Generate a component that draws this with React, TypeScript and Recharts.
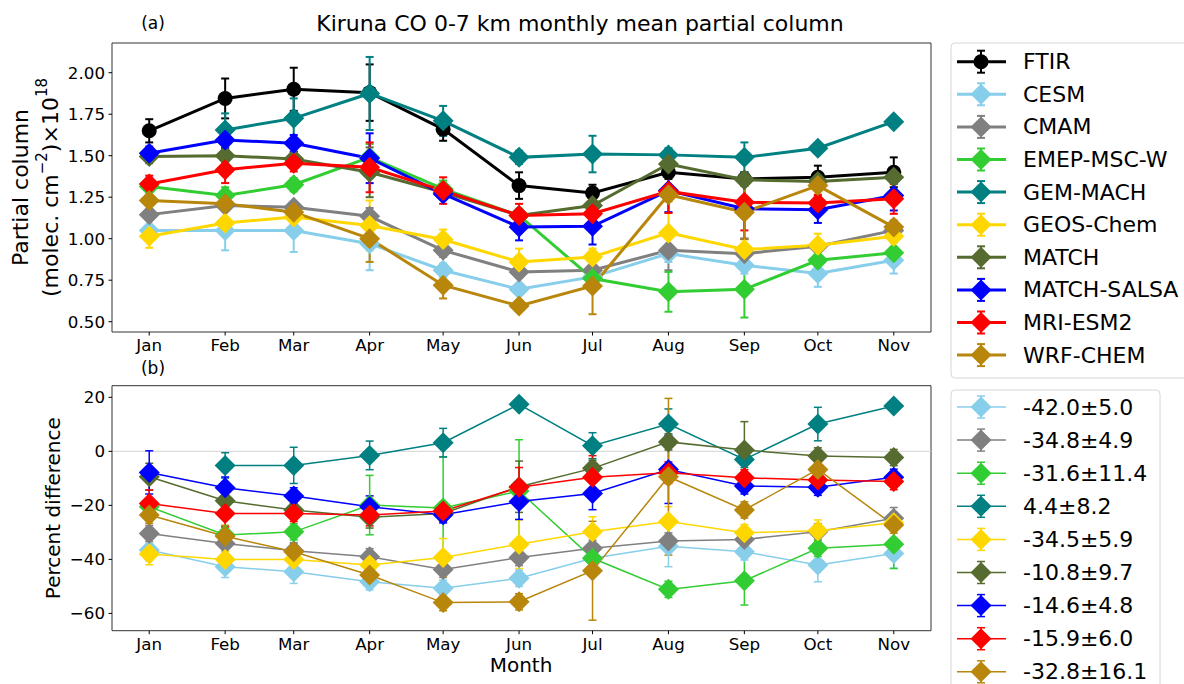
import React from 'react';
import { LineChart, Line, XAxis, YAxis, ErrorBar, ReferenceLine } from 'recharts';

// ---------- categories ----------
const months = ['Jan', 'Feb', 'Mar', 'Apr', 'May', 'Jun', 'Jul', 'Aug', 'Sep', 'Oct', 'Nov'];
const monthDays = [15, 46, 74, 105, 135, 166, 196, 227, 258, 288, 319];

// ---------- series names / colours ----------
const seriesNames = ['FTIR', 'CESM', 'CMAM', 'EMEP-MSC-W', 'GEM-MACH', 'GEOS-Chem', 'MATCH', 'MATCH-SALSA', 'MRI-ESM2', 'WRF-CHEM'];
const seriesColors = ['#000000', '#87CEEB', '#808080', '#32CD32', '#008080', '#FFD700', '#556B2F', '#0000FF', '#FF0000', '#B8860B'];

// ---------- panel (a): partial column (x1e18) ----------
const ftirCol = [1.65, 1.845, 1.9, 1.88, 1.66, 1.32, 1.275, 1.4, 1.36, 1.37, 1.4];
const ftirColErr = [0.07, 0.12, 0.13, 0.17, 0.07, 0.08, 0.05, 0.04, 0.04, 0.07, 0.09];
const cesmCol = [1.05, 1.05, 1.05, 0.97, 0.81, 0.695, 0.77, 0.91, 0.84, 0.79, 0.87];
const cesmColErr = [0.03, 0.12, 0.13, 0.16, 0.04, 0.03, 0.04, 0.05, 0.05, 0.08, 0.08];
const cmamCol = [1.145, 1.2, 1.19, 1.135, 0.93, 0.8, 0.81, 0.93, 0.91, 0.955, 1.05];
const cmamColErr = [0.03, 0.03, 0.03, 0.05, 0.04, 0.03, 0.03, 0.12, 0.04, 0.03, 0.04];
const emepCol = [1.315, 1.26, 1.325, 1.49, 1.3, 1.14, 0.76, 0.68, 0.695, 0.87, 0.915];
const emepColErr = [0.03, 0.05, 0.04, 0.08, 0.05, 0.04, 0.03, 0.12, 0.17, 0.03, 0.03];
const gemCol = [null, 1.655, 1.725, 1.875, 1.71, 1.49, 1.51, 1.505, 1.49, 1.545, 1.705];
const gemColErr = [null, 0.1, 0.12, 0.22, 0.09, 0.04, 0.11, 0.04, 0.09, 0.02, 0.02];
const geosCol = [1.015, 1.095, 1.13, 1.08, 0.995, 0.86, 0.89, 1.035, 0.935, 0.96, 1.015];
const geosColErr = [0.07, 0.08, 0.05, 0.15, 0.06, 0.08, 0.05, 0.12, 0.06, 0.07, 0.04];
const matchCol = [1.495, 1.5, 1.48, 1.4, 1.28, 1.14, 1.2, 1.45, 1.355, 1.345, 1.37];
const matchColErr = [0.04, 0.04, 0.04, 0.15, 0.04, 0.03, 0.04, 0.04, 0.03, 0.03, 0.03];
const salsaCol = [1.515, 1.595, 1.575, 1.485, 1.27, 1.07, 1.075, 1.29, 1.18, 1.175, 1.26];
const salsaColErr = [0.04, 0.05, 0.05, 0.15, 0.03, 0.08, 0.11, 0.13, 0.18, 0.08, 0.09];
const mriCol = [1.33, 1.415, 1.455, 1.43, 1.29, 1.14, 1.15, 1.285, 1.22, 1.215, 1.24];
const mriColErr = [0.05, 0.08, 0.05, 0.15, 0.08, 0.07, 0.06, 0.13, 0.17, 0.05, 0.09];
const wrfCol = [1.23, 1.21, 1.16, 1.0, 0.72, 0.595, 0.715, 1.265, 1.16, 1.32, 1.07];
const wrfColErr = [0.03, 0.04, 0.05, 0.14, 0.08, 0.03, 0.17, 0.04, 0.16, 0.03, 0.04];

// ---------- panel (b): percent difference ----------
const cesmPct = [-36.5, -42.7, -44.6, -48.3, -50.7, -47.0, -39.6, -35.1, -37.2, -42.1, -37.8];
const cesmPctErr = [4, 4, 4.3, 3, 3, 3, 3, 7.6, 3, 6.2, 5.4];
const cmamPct = [-30.4, -34.1, -36.8, -39, -43.7, -39.3, -35.9, -33.2, -32.6, -29.8, -24.8];
const cmamPctErr = [3, 3, 3, 3, 3, 3, 3, 3, 3, 3, 4];
const emepPct = [-20.5, -31, -29.8, -19.9, -21, -14.7, -39.6, -51.1, -47.9, -35.9, -34.4];
const emepPctErr = [3, 3, 3, 11, 19, 19, 3, 3, 9, 3, 9];
const gemPct = [null, -5.2, -5.2, -1.5, 3.2, 17.4, 2.1, 10.1, -3.0, 10.1, 16.8];
const gemPctErr = [null, 4.7, 6.7, 5.3, 5.3, 0.5, 4.8, 5.6, 3, 6.2, 0.5];
const geosPct = [-38, -40, -40, -42.1, -39.3, -34.4, -29.8, -26, -30.1, -29.4, -26.4];
const geosPctErr = [4, 3, 3, 3, 7, 9, 5.6, 5.5, 3, 4, 3];
const matchPct = [-9.4, -18.3, -21.7, -24.4, -23, -13.1, -6.3, 3.5, 0.5, -1.7, -2.3];
const matchPctErr = [5, 3, 3, 4, 3, 9.5, 3, 3, 10.5, 3, 3];
const salsaPct = [-7.8, -13.5, -16.5, -20.5, -23.5, -18.6, -15.6, -6.7, -12.8, -13.3, -9.6];
const salsaPctErr = [8, 4, 3, 4, 3, 6.6, 6, 12.6, 3, 3, 3];
const mriPct = [-19.3, -23, -23, -23.6, -22.1, -13.3, -9.6, -7.9, -9.8, -10.6, -11.2];
const mriPctErr = [5, 5, 3, 4, 3, 7.3, 8, 4, 3, 3, 3];
const wrfPct = [-23.6, -31.4, -37.2, -45.8, -56, -55.7, -44.2, -9.4, -21.7, -6.7, -27.3];
const wrfPctErr = [3, 4, 3, 3, 3, 3, 18.3, 29, 3, 3, 3];

const pctLegendLabels = ['-42.0±5.0', '-34.8±4.9', '-31.6±11.4', '4.4±8.2', '-34.5±5.9', '-10.8±9.7', '-14.6±4.8', '-15.9±6.0', '-32.8±16.1'];

// ---------- ticks ----------
const colTicks = [0.5, 0.75, 1.0, 1.25, 1.5, 1.75, 2.0];
const pctTicks = [-60, -40, -20, 0, 20];

const topValues = [ftirCol, cesmCol, cmamCol, emepCol, gemCol, geosCol, matchCol, salsaCol, mriCol, wrfCol];
const topErrors = [ftirColErr, cesmColErr, cmamColErr, emepColErr, gemColErr, geosColErr, matchColErr, salsaColErr, mriColErr, wrfColErr];
const botValues = [cesmPct, cmamPct, emepPct, gemPct, geosPct, matchPct, salsaPct, mriPct, wrfPct];
const botErrors = [cesmPctErr, cmamPctErr, emepPctErr, gemPctErr, geosPctErr, matchPctErr, salsaPctErr, mriPctErr, wrfPctErr];

const buildRows = (vals: (number | null)[][], errs: (number | null)[][]) =>
  monthDays.map((d, i) => {
    const row: any = { day: d };
    vals.forEach((v, k) => {
      row['v' + k] = v[i];
      row['e' + k] = errs[k][i];
    });
    return row;
  });

const topData = buildRows(topValues, topErrors);
const botData = buildRows(botValues, botErrors);

const FONT = 'DejaVu Sans';
const xDomain = [-0.2, 334.2];

const diamondPath = (cx: number, cy: number, r: number) =>
  `M${cx},${cy - r}L${cx + r},${cy}L${cx},${cy + r}L${cx - r},${cy}Z`;

const makeDot = (color: string, shape: string, r: number) => (props: any) => {
  const { cx, cy, index } = props;
  if (cx == null || cy == null || isNaN(cx) || isNaN(cy) || props.value == null) {
    return <g key={`n${index}`} />;
  }
  if (shape === 'circle') return <circle key={`c${index}`} cx={cx} cy={cy} r={r} fill={color} />;
  return <path key={`d${index}`} d={diamondPath(cx, cy, r)} fill={color} />;
};

const tickStyle = { fill: '#000', fontSize: 16.7, fontFamily: FONT };
const axisStroke = { stroke: '#333', strokeWidth: 1 };

const frameLines = (yDomain: number[]) => [
  <ReferenceLine key="ft" y={yDomain[1]} stroke="#333" strokeWidth={1} ifOverflow="visible" />,
  <ReferenceLine key="fr" x={xDomain[1]} stroke="#333" strokeWidth={1} ifOverflow="visible" />,
];

const TopChart = () => {
  const yDomain = [0.4379, 2.179];
  return (
    <LineChart width={940} height={370} data={topData} margin={{ top: 43, right: 9, left: 0, bottom: 8 }}>
      <XAxis dataKey="day" type="number" domain={xDomain} allowDataOverflow ticks={monthDays}
        tickFormatter={(v: number) => months[monthDays.indexOf(v)]} tick={tickStyle}
        tickSize={3.5} tickMargin={3.5} tickLine={{ stroke: '#000' }} axisLine={axisStroke} height={30} interval={0} />
      <YAxis type="number" domain={yDomain} allowDataOverflow ticks={colTicks}
        tickFormatter={(v: number) => v.toFixed(2)} tick={tickStyle}
        tickSize={3.5} tickMargin={3.5} tickLine={{ stroke: '#000' }} axisLine={axisStroke} width={112} interval={0} />
      {frameLines(yDomain)}
      {seriesNames.map((name, k) => (
        <Line key={name} dataKey={'v' + k} name={name} stroke={seriesColors[k]} strokeWidth={3}
          isAnimationActive={false} activeDot={false}
          dot={makeDot(seriesColors[k], k === 0 ? 'circle' : 'diamond', k === 0 ? 7.5 : 10.5)}>
          <ErrorBar dataKey={'e' + k} direction="y" width={4} stroke={seriesColors[k]} strokeWidth={2} isAnimationActive={false} />
        </Line>
      ))}
    </LineChart>
  );
};

const BottomChart = () => {
  const yDomain = [-66.4, 24.3];
  return (
    <LineChart width={940} height={314} data={botData} margin={{ top: 15.7, right: 9, left: 0, bottom: 23.3 }}>
      <XAxis dataKey="day" type="number" domain={xDomain} allowDataOverflow ticks={monthDays}
        tickFormatter={(v: number) => months[monthDays.indexOf(v)]} tick={tickStyle}
        tickSize={3.5} tickMargin={3.5} tickLine={{ stroke: '#000' }} axisLine={axisStroke} height={30} interval={0} />
      <YAxis type="number" domain={yDomain} allowDataOverflow ticks={pctTicks}
        tickFormatter={(v: number) => (v < 0 ? '\u2212' + Math.abs(v) : String(v))} tick={tickStyle}
        tickSize={3.5} tickMargin={3.5} tickLine={{ stroke: '#000' }} axisLine={axisStroke} width={112} interval={0} />
      {frameLines(yDomain)}
      <ReferenceLine y={0} stroke="#d3d3d3" strokeWidth={1} />
      {botValues.map((_, k) => (
        <Line key={k} dataKey={'v' + k} name={seriesNames[k + 1]} stroke={seriesColors[k + 1]} strokeWidth={1.5}
          isAnimationActive={false} activeDot={false}
          dot={makeDot(seriesColors[k + 1], 'diamond', 10.5)}>
          <ErrorBar dataKey={'e' + k} direction="y" width={4} stroke={seriesColors[k + 1]} strokeWidth={1.5} isAnimationActive={false} />
        </Line>
      ))}
    </LineChart>
  );
};

const LegendRow = ({ y, color, label, circle, lw }: any) => (
  <g>
    <line x1={957} x2={1006} y1={y} y2={y} stroke={color} strokeWidth={lw} />
    <line x1={981} x2={981} y1={y - 11} y2={y + 11} stroke={color} strokeWidth={lw === 3 ? 2 : 1.5} />
    <line x1={977} x2={985} y1={y - 11} y2={y - 11} stroke={color} strokeWidth={lw === 3 ? 2 : 1.5} />
    <line x1={977} x2={985} y1={y + 11} y2={y + 11} stroke={color} strokeWidth={lw === 3 ? 2 : 1.5} />
    {circle ? <circle cx={981} cy={y} r={7.5} fill={color} /> : <path d={diamondPath(981, y, 10.5)} fill={color} />}
    <text x={1023} y={y} dominantBaseline="central" fontSize={22} fontFamily={FONT} fill="#000">{label}</text>
  </g>
);

const Overlay = () => (
  <svg width={1184} height={684} style={{ position: 'absolute', left: 0, top: 0, pointerEvents: 'none' }}>
    <text x={580} y={31} textAnchor="middle" fontSize={22} fontFamily={FONT} fill="#000">
      Kiruna CO 0-7 km monthly mean partial column
    </text>
    <text x={153} y={23} textAnchor="middle" dominantBaseline="central" fontSize={17} fontFamily={FONT} fill="#000">(a)</text>
    <text x={153} y={368} textAnchor="middle" dominantBaseline="central" fontSize={17} fontFamily={FONT} fill="#000">(b)</text>
    <g transform="translate(20,187.5) rotate(-90)">
      <text x={0} y={0} textAnchor="middle" dominantBaseline="central" fontSize={22} fontFamily={FONT} fill="#000">Partial column</text>
    </g>
    <g transform="translate(50,187.5) rotate(-90)">
      <text x={0} y={0} textAnchor="middle" dominantBaseline="central" fontSize={22} fontFamily={FONT} fill="#000">
        (molec. cm<tspan fontSize={15} dy={-8}>−2</tspan><tspan dy={8}>)×10</tspan><tspan fontSize={15} dy={-8}>18</tspan>
      </text>
    </g>
    <g transform="translate(53,508.2) rotate(-90)">
      <text x={0} y={0} textAnchor="middle" dominantBaseline="central" fontSize={20} fontFamily={FONT} fill="#000">Percent difference</text>
    </g>
    <text x={521} y={665} textAnchor="middle" dominantBaseline="central" fontSize={20} fontFamily={FONT} fill="#000">Month</text>

    <rect x={951} y={43} width={260} height={335} rx={4} fill="#fff" fillOpacity={0.8} stroke="#d6d6d6" strokeWidth={1} />
    {seriesNames.map((n, k) => (
      <LegendRow key={n} y={61.7 + k * 32.6} color={seriesColors[k]} label={n} circle={k === 0} lw={3} />
    ))}
    <rect x={951} y={390} width={209} height={320} rx={4} fill="#fff" fillOpacity={0.8} stroke="#d6d6d6" strokeWidth={1} />
    {pctLegendLabels.map((l, k) => (
      <LegendRow key={l} y={407 + k * 33.1} color={seriesColors[k + 1]} label={l} circle={false} lw={1.5} />
    ))}
  </svg>
);

export default function App() {
  return (
    <div style={{ position: 'absolute', left: 0, top: 0, width: 1184, height: 684, background: '#fff', overflow: 'hidden' }}>
      <div style={{ position: 'absolute', left: 0, top: 0 }}>
        <TopChart />
      </div>
      <div style={{ position: 'absolute', left: 0, top: 370 }}>
        <BottomChart />
      </div>
      <Overlay />
    </div>
  );
}
